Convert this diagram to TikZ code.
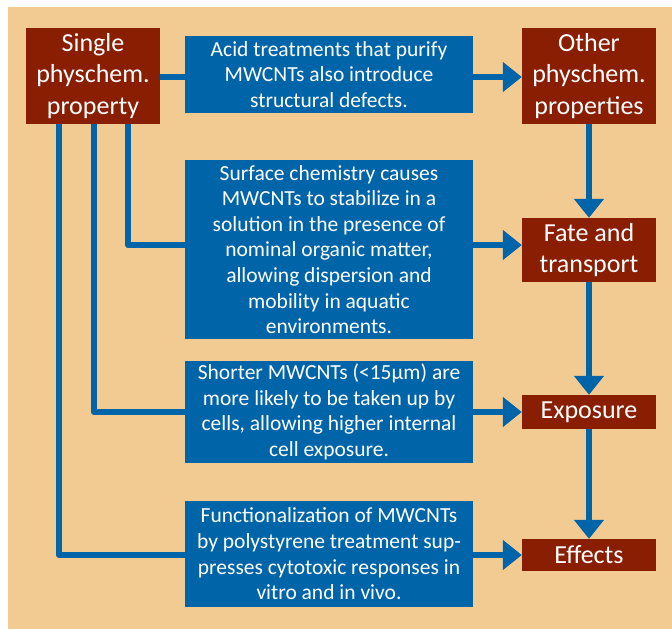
\documentclass[tikz,border=0pt]{standalone}
\usepackage{fontspec}
\setmainfont{Carlito}
\usetikzlibrary{arrows.meta}
\definecolor{tanbg}{RGB}{242,203,146}
\definecolor{brownbox}{RGB}{137,30,3}
\definecolor{bluebox}{RGB}{0,100,168}
\pgfdeclarelayer{back}
\pgfdeclarelayer{lines}
\pgfsetlayers{back,lines,main}
\begin{document}
\begin{tikzpicture}[x=1pt,y=-1pt,
  brownnode/.style={fill=brownbox,text=white,inner sep=0pt,align=center,minimum width=134pt,font=\fontsize{26}{31.5}\selectfont},
  bluenode/.style={fill=bluebox,text=white,inner sep=0pt,align=center,minimum width=288pt,font=\fontsize{21.5}{25.6}\selectfont},
  conn/.style={draw=bluebox,line width=6pt,line join=round},
  arr/.style={conn,-{Triangle[length=19pt,width=29pt]}}]
\useasboundingbox (0,0) rectangle (672,629);
\begin{pgfonlayer}{back}
\fill[white] (0,0) rectangle (672,629);
\fill[tanbg] (8,7) rectangle (672,629);
\end{pgfonlayer}
\node[brownnode,minimum height=96pt] (single) at (93,76) {Single\\physchem.\\property};
\node[brownnode,minimum height=96pt] (other) at (589,76) {Other\\physchem.\\properties};
\node[brownnode,minimum height=64pt] (fate) at (589,250) {Fate and\\transport};
\node[brownnode,minimum height=34pt] (expo) at (589,412) {Exposure};
\node[brownnode,minimum height=32pt] (eff) at (589,555) {Effects};
\node[bluenode,minimum height=77pt] (acid) at (329,74.5) {Acid treatments that purify\\MWCNTs also introduce\\structural defects.};
\node[bluenode,minimum height=179pt] (surf) at (329,249.5) {Surface chemistry causes\\MWCNTs to stabilize in a\\solution in the presence of\\nominal organic matter,\\allowing dispersion and\\mobility in aquatic\\environments.};
\node[bluenode,minimum height=102pt] (short) at (329,412) {Shorter MWCNTs (<15µm) are\\more likely to be taken up by\\cells, allowing higher internal\\cell exposure.};
\node[bluenode,minimum height=106pt] (func) at (329,554) {Functionalization of MWCNTs\\by polystyrene treatment sup-\\presses cytotoxic responses in\\vitro and in vivo.};
\begin{pgfonlayer}{lines}
\draw[arr] ([yshift=-1pt]single.east) -- ([yshift=-1pt]other.west);
\draw[arr] ([xshift=35pt]single.south) |- ([yshift=5pt]fate.west);
\draw[arr] ([xshift=1pt]single.south) |- (expo.west);
\draw[arr] ([xshift=-34pt]single.south) |- (eff.west);
\draw[arr] (other.south) -- (fate.north);
\draw[arr] (fate.south) -- (expo.north);
\draw[arr] (expo.south) -- (eff.north);
\end{pgfonlayer}
\end{tikzpicture}
\end{document}
